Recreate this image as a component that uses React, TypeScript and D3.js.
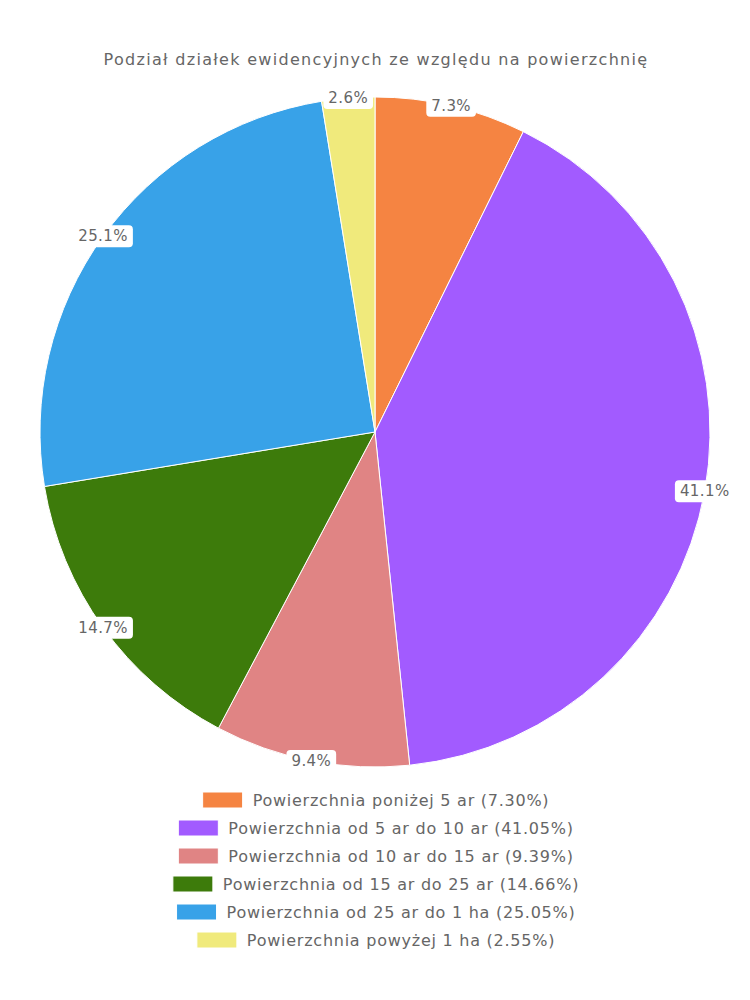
import React, { useEffect, useRef } from "react";
import * as d3 from "d3";

const TITLE = "Podział działek ewidencyjnych ze względu na powierzchnię";
const categories = [
  "Powierzchnia poniżej 5 ar",
  "Powierzchnia od 5 ar do 10 ar",
  "Powierzchnia od 10 ar do 15 ar",
  "Powierzchnia od 15 ar do 25 ar",
  "Powierzchnia od 25 ar do 1 ha",
  "Powierzchnia powyżej 1 ha",
];
const values = [7.3, 41.05, 9.39, 14.66, 25.05, 2.55];
const colors = ["#F58442", "#A25BFF", "#E08484", "#3D7B0B", "#38A2E8", "#F0EA7C"];

const W = 750;
const H = 1000;
const FONT = "'DejaVu Sans', sans-serif";

export default function App() {
  const ref = useRef<SVGSVGElement | null>(null);

  useEffect(() => {
    const svg = d3.select(ref.current);
    svg.selectAll("*").remove();

    svg
      .append("text")
      .attr("x", 376)
      .attr("y", 60)
      .attr("text-anchor", "middle")
      .attr("dominant-baseline", "middle")
      .attr("font-family", FONT)
      .attr("font-size", 16)
      .attr("letter-spacing", 1.3)
      .attr("fill", "#666")
      .text(TITLE);

    const cx = 375, cy = 432, r = 335;
    const pie = d3.pie<number>().sort(null).value((d) => d);
    const arcs = pie(values);
    const arc = d3.arc<d3.PieArcDatum<number>>().innerRadius(0).outerRadius(r);
    const g = svg.append("g").attr("transform", `translate(${cx},${cy})`);
    g.selectAll("path")
      .data(arcs)
      .join("path")
      .attr("d", arc as any)
      .attr("fill", (_d, i) => colors[i])
      .attr("stroke", "#fff")
      .attr("stroke-width", 1);

    const lab = d3.arc<d3.PieArcDatum<number>>().innerRadius(r).outerRadius(r);
    const total = d3.sum(values);
    arcs.forEach((a) => {
      const [x, y] = lab.centroid(a);
      const lg = g.append("g").attr("transform", `translate(${x},${y})`);
      const t = lg
        .append("text")
        .attr("text-anchor", "middle")
        .attr("dominant-baseline", "central")
        .attr("font-family", FONT)
        .attr("font-size", 15)
        .attr("letter-spacing", 0.4)
        .attr("fill", "#666")
        .text(((a.value / total) * 100).toFixed(1) + "%");
      const w = (t.node() as SVGTextElement).getComputedTextLength();
      lg.insert("rect", "text")
        .attr("x", -w / 2 - 5)
        .attr("y", -11)
        .attr("width", w + 10)
        .attr("height", 22)
        .attr("rx", 4)
        .attr("fill", "#fff");
    });

    const legY0 = 800, legStep = 28;
    categories.forEach((c, i) => {
      const lg = svg.append("g");
      const t = lg
        .append("text")
        .attr("dominant-baseline", "central")
        .attr("font-family", FONT)
        .attr("font-size", 16)
        .attr("letter-spacing", 0.75)
        .attr("fill", "#666")
        .text(`${c} (${values[i].toFixed(2)}%)`);
      const w = (t.node() as SVGTextElement).getComputedTextLength();
      const tot = 40 + 10 + w;
      const x0 = 376 - tot / 2;
      const y = legY0 + i * legStep;
      t.attr("x", x0 + 50).attr("y", y);
      lg.append("rect")
        .attr("x", x0)
        .attr("y", y - 8)
        .attr("width", 40)
        .attr("height", 16)
        .attr("fill", colors[i])
        .attr("stroke", "#fff")
        .attr("stroke-width", 1);
    });
  }, []);

  return <svg ref={ref} width={W} height={H} style={{ display: "block", margin: -8 }} />;
}
